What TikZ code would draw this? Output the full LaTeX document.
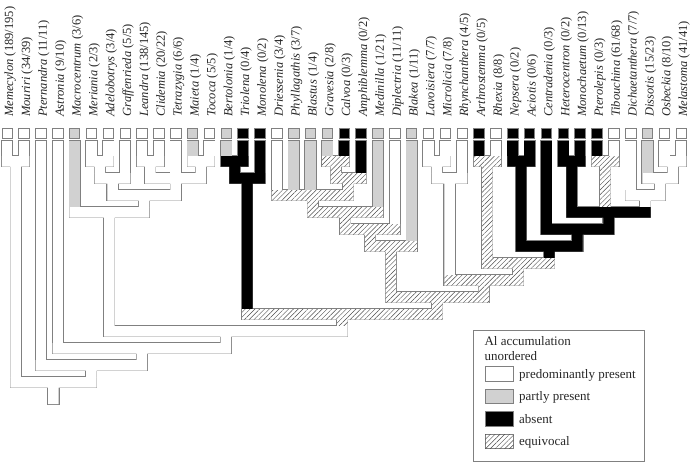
\documentclass[tikz,border=0pt]{standalone}
\usepackage{fontspec}
\setmainfont{Liberation Serif}
\usetikzlibrary{patterns.meta}
\newcount\treephase
\newcommand\shp[2]{\ifnum\treephase=1 \draw[draw=black!50, line width=1.6pt, line join=miter] #2;\else\path[#1] #2;\fi}
\newcommand\tipbr[3]{\shp{#1}{(#2-5.25,140.5) rectangle (#2+5.25,{139+17*#3})}}
\newcommand\nd[6]{\shp{#1}{(#2-5.25,{139+17*#4}) -- (#3+5.25,{139+17*#4}) -- (#3+5.25,{149.5+17*#4}) -- (#5+5.25,{149.5+17*#4}) -- (#5+5.25,{139+17*#6}) -- (#5-5.25,{139+17*#6}) -- (#5-5.25,{149.5+17*#4}) -- (#2-5.25,{149.5+17*#4}) -- cycle}}
\newcommand\taxon[5]{%
  \node[labst] (t#1) at (#2+6,117) {\textit{#4} (#5)};
  \path[#3, draw=black!50, line width=0.8pt] (#2-5.25,128) rectangle (#2+5.25,138.5);}
\newcommand\treeall{%
\tipbr{wf}{7.20}{1}\tipbr{wf}{24.05}{1}\tipbr{wf}{40.90}{13}\tipbr{wf}{57.75}{12}
\tipbr{gf}{74.60}{4}\tipbr{wf}{91.45}{1}\tipbr{wf}{108.30}{1}\tipbr{wf}{125.15}{2}
\tipbr{wf}{142.00}{1}\tipbr{wf}{158.85}{1}\tipbr{wf}{175.70}{2}\tipbr{gf}{192.55}{1}
\tipbr{wf}{209.40}{1}\tipbr{gf}{226.25}{1}\tipbr{bf}{243.10}{1}\tipbr{bf}{259.95}{2}
\tipbr{wf}{276.80}{3}\tipbr{gf}{293.65}{3}\tipbr{gf}{310.50}{3}\tipbr{gf}{327.35}{1}
\tipbr{bf}{344.20}{1}\tipbr{bf}{361.05}{2}\tipbr{gf}{377.90}{4}\tipbr{wf}{394.75}{5}
\tipbr{gf}{411.60}{6}\tipbr{wf}{428.45}{1}\tipbr{wf}{445.30}{1}\tipbr{wf}{462.15}{2}
\tipbr{bf}{479.00}{1}\tipbr{wf}{495.85}{1}\tipbr{bf}{512.70}{1}\tipbr{bf}{529.55}{1}
\tipbr{bf}{546.40}{5}\tipbr{bf}{563.25}{1}\tipbr{bf}{580.10}{1}\tipbr{bf}{596.95}{1}
\tipbr{wf}{613.80}{1}\tipbr{wf}{630.65}{3}\tipbr{gf}{647.50}{2}\tipbr{wf}{664.35}{1}
\tipbr{wf}{681.20}{1}
\nd{wf}{7.20}{24.05}{1}{15.625}{14}
\nd{wf}{91.45}{108.30}{1}{99.875}{2}
\nd{wf}{99.875}{125.15}{2}{112.51}{3}
\nd{wf}{142.00}{158.85}{1}{150.425}{2}
\nd{wf}{192.55}{209.40}{1}{200.975}{2}
\nd{wf}{150.425}{200.975}{2}{175.70}{3}
\nd{wf}{112.51}{175.70}{3}{144.105}{4}
\nd{wf}{74.60}{144.105}{4}{109.35}{11}
\nd{bf}{226.25}{243.10}{1}{234.675}{2}
\nd{bf}{234.675}{259.95}{2}{247.31}{10}
\nd{hf}{327.35}{344.20}{1}{335.775}{2}
\nd{hf}{335.775}{361.05}{2}{348.41}{3}
\nd{hf}{276.80}{348.41}{3}{312.61}{4}
\nd{hf}{312.61}{377.90}{4}{345.25}{5}
\nd{hf}{345.25}{394.75}{5}{370.00}{6}
\nd{hf}{370.00}{411.60}{6}{390.80}{9}
\nd{wf}{428.45}{445.30}{1}{436.875}{2}
\nd{wf}{436.875}{462.15}{2}{449.51}{8}
\nd{hf}{479.00}{495.85}{1}{487.425}{7}
\nd{bf}{512.70}{529.55}{1}{521.125}{6}
\nd{bf}{563.25}{580.10}{1}{571.675}{4}
\nd{hf}{596.95}{613.80}{1}{605.375}{4}
\nd{wf}{664.35}{681.20}{1}{672.775}{2}
\nd{wf}{647.50}{672.775}{2}{660.14}{3}
\nd{wf}{630.65}{660.14}{3}{645.39}{4}
\nd{bf}{571.675}{645.39}{4}{608.53}{5}
\nd{bf}{546.40}{608.53}{5}{577.47}{6}
\nd{bf}{521.125}{577.47}{6}{549.30}{7}
\nd{hf}{487.425}{549.30}{7}{518.36}{8}
\nd{hf}{449.51}{518.36}{8}{483.94}{9}
\nd{hf}{390.80}{483.94}{9}{437.37}{10}
\nd{hf}{247.31}{437.37}{10}{342.34}{11}
\nd{wf}{109.35}{342.34}{11}{225.85}{12}
\nd{wf}{57.75}{225.85}{12}{141.80}{13}
\nd{wf}{40.90}{141.80}{13}{91.35}{14}
\nd{wf}{15.625}{91.35}{14}{53.49}{15.588}}
\begin{document}
\begin{tikzpicture}[x=1pt,y=-1pt,
  wf/.style={fill=white},
  gf/.style={fill=black!18},
  bf/.style={fill=black},
  hf/.style={fill=white, postaction={pattern={Lines[angle=45,distance=3.4pt,line width=0.45pt]}, pattern color=black!70}},
  labst/.style={font=\fontsize{12.5}{14}\selectfont, inner sep=0pt, rotate=90, anchor=base west, text=black!85},
  legt/.style={font=\fontsize{13}{15}\selectfont, inner sep=0pt, anchor=base west, text=black!85},
  swatch/.style={draw=black!50, line width=0.8pt}]
\useasboundingbox (0,0) rectangle (691,463);
% branches: outline pass, then fill pass
\treephase=1 \treeall
\treephase=2 \treeall
% taxa
\taxon{0}{7.20}{wf}{Memecylon}{189/195}
\taxon{1}{24.05}{wf}{Mouriri}{34/39}
\taxon{2}{40.90}{wf}{Pternandra}{11/11}
\taxon{3}{57.75}{wf}{Astronia}{9/10}
\taxon{4}{74.60}{gf}{Macrocentrum}{3/6}
\taxon{5}{91.45}{wf}{Meriania}{2/3}
\taxon{6}{108.30}{wf}{Adelobotrys}{3/4}
\taxon{7}{125.15}{wf}{Graffenrieda}{5/5}
\taxon{8}{142.00}{wf}{Leandra}{138/145}
\taxon{9}{158.85}{wf}{Clidemia}{20/22}
\taxon{10}{175.70}{wf}{Tetrazygia}{6/6}
\taxon{11}{192.55}{gf}{Maieta}{1/4}
\taxon{12}{209.40}{wf}{Tococa}{5/5}
\taxon{13}{226.25}{gf}{Bertolonia}{1/4}
\taxon{14}{243.10}{bf}{Triolena}{0/4}
\taxon{15}{259.95}{bf}{Monolena}{0/2}
\taxon{16}{276.80}{wf}{Driessenia}{3/4}
\taxon{17}{293.65}{gf}{Phyllagathis}{3/7}
\taxon{18}{310.50}{gf}{Blastus}{1/4}
\taxon{19}{327.35}{gf}{Gravesia}{2/8}
\taxon{20}{344.20}{bf}{Calvoa}{0/3}
\taxon{21}{361.05}{bf}{Amphiblemma}{0/2}
\taxon{22}{377.90}{gf}{Medinilla}{1/21}
\taxon{23}{394.75}{wf}{Diplectria}{11/11}
\taxon{24}{411.60}{gf}{Blakea}{1/11}
\taxon{25}{428.45}{wf}{Lavoisiera}{7/7}
\taxon{26}{445.30}{wf}{Microlicia}{7/8}
\taxon{27}{462.15}{wf}{Rhynchanthera}{4/5}
\taxon{28}{479.00}{bf}{Arthrostemma}{0/5}
\taxon{29}{495.85}{wf}{Rhexia}{8/8}
\taxon{30}{512.70}{bf}{Nepsera}{0/2}
\taxon{31}{529.55}{bf}{Aciotis}{0/6}
\taxon{32}{546.40}{bf}{Centradenia}{0/3}
\taxon{33}{563.25}{bf}{Heterocentron}{0/2}
\taxon{34}{580.10}{bf}{Monochaetum}{0/13}
\taxon{35}{596.95}{bf}{Pterolepis}{0/3}
\taxon{36}{613.80}{wf}{Tibouchina}{61/68}
\taxon{37}{630.65}{wf}{Dichaetanthera}{7/7}
\taxon{38}{647.50}{gf}{Dissotis}{15/23}
\taxon{39}{664.35}{wf}{Osbeckia}{8/10}
\taxon{40}{681.20}{wf}{Melastoma}{41/41}
% legend
\draw[draw=black!50, line width=0.9pt] (473.5,330) rectangle (644,461.5);
\node[legt] (lt1) at (484.3,345.5) {Al accumulation};
\node[legt] (lt2) at (484.3,360) {unordered};
\path[swatch, wf] (485,366.8) rectangle (513.3,381.3);
\path[swatch, gf] (485,389.3) rectangle (513.3,403.8);
\path[swatch, bf] (485,411.8) rectangle (513.3,426.3);
\path[swatch, hf] (485,434.3) rectangle (513.3,448.8);
\node[legt] (l1) at (519,378) {predominantly present};
\node[legt] (l2) at (519,400.5) {partly present};
\node[legt] (l3) at (519,423) {absent};
\node[legt] (l4) at (519,445.5) {equivocal};
\end{tikzpicture}
\end{document}
